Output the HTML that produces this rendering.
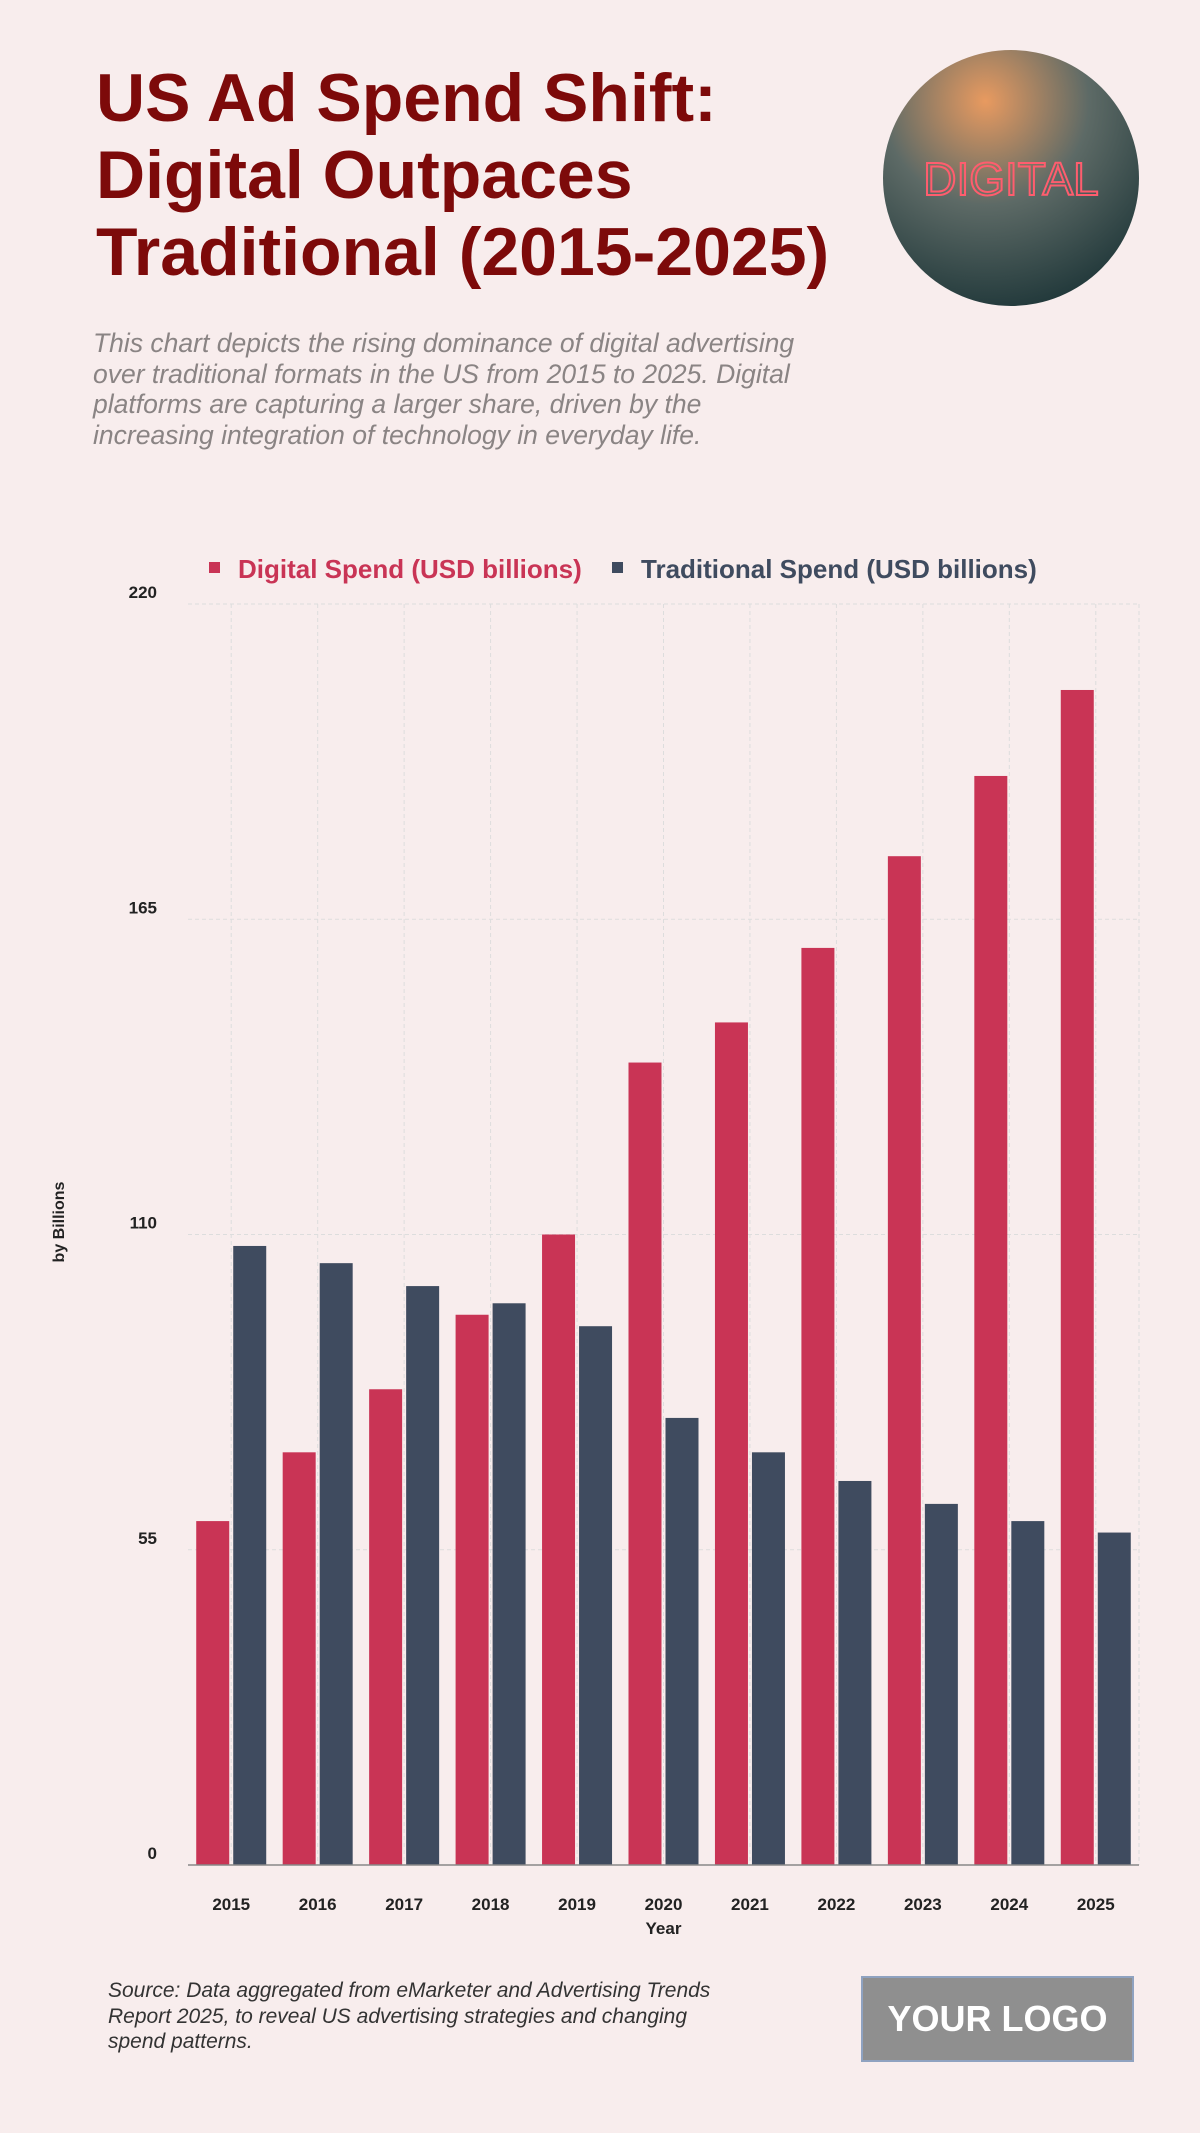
<!DOCTYPE html>
<html><head><meta charset="utf-8">
<style>
body{margin:0;width:1200px;height:2133px;background:#f8eded;font-family:"Liberation Sans",sans-serif;position:relative;overflow:hidden}
.t{position:absolute}
#title{left:96px;top:60px;font-size:68px;font-weight:bold;color:#7d0a0a;line-height:77px;margin:0}
#sub{left:93px;top:328px;font-size:26.5px;font-style:italic;color:#8a8484;line-height:30.5px;width:720px}
#src{left:108px;top:1978px;font-size:21px;font-style:italic;color:#333;line-height:25.5px;width:632px}
#logo{left:861px;top:1976px;width:273px;height:86px;background:#8f8f8f;border:2px solid #8fa2c0;color:#fff;font-weight:bold;font-size:36px;display:flex;align-items:center;justify-content:center;box-sizing:border-box}
</style></head><body>
<h1 id="title" class="t">US Ad Spend Shift:<br>Digital Outpaces<br>Traditional (2015-2025)</h1>
<svg class="t" style="left:883px;top:50px" width="256" height="256">
<defs><radialGradient id="g" cx="0.4" cy="0.2" r="0.9"><stop offset="0" stop-color="#e89a60"/><stop offset="0.45" stop-color="#5d6a66"/><stop offset="1" stop-color="#173033"/></radialGradient></defs>
<circle cx="128" cy="128" r="128" fill="url(#g)"/>
<text x="128" y="145" text-anchor="middle" font-size="46" fill="none" stroke="#ff5d6e" stroke-width="2" font-family="Liberation Sans">DIGITAL</text>
</svg>
<div id="sub" class="t">This chart depicts the rising dominance of digital advertising over traditional formats in the US from 2015 to 2025. Digital platforms are capturing a larger share, driven by the increasing integration of technology in everyday life.</div>
<svg id="chart" class="t" style="left:0;top:540px" width="1200" height="1420"></svg>
<div id="src" class="t">Source: Data aggregated from eMarketer and Advertising Trends Report 2025, to reveal US advertising strategies and changing spend patterns.</div>
<div id="logo" class="t">YOUR LOGO</div>
<script>
const years=["2015","2016","2017","2018","2019","2020","2021","2022","2023","2024","2025"];
const digital=[60,72,83,96,110,140,147,160,176,190,205];
const traditional=[108,105,101,98,94,78,72,67,63,60,58];
const ticks=[0,55,110,165,220];
const NS="http://www.w3.org/2000/svg";
const svg=document.getElementById('chart');
const OY=540,L=188,R=1139,T=604-OY,B=1865-OY,MAX=220;
const y=v=>B-(v/MAX)*(B-T);
const slot=(R-L)/years.length;
const xc=i=>L+slot*(i+0.5);
function mk(tag,a,parent){const e=document.createElementNS(NS,tag);for(const k in a)e.setAttribute(k,a[k]);(parent||svg).appendChild(e);return e;}
ticks.forEach(t=>{
 const g=mk('line',{x1:L,x2:R,y1:y(t),y2:y(t),stroke:'#ddd',"stroke-dasharray":'4 3'});
 
 
 const tx=mk('text',{x:157,y:y(t)-6,"text-anchor":'end',"font-size":17,"font-weight":'bold',fill:'#222'});tx.textContent=t;
 
 
});
mk('line',{x1:R,x2:R,y1:T,y2:B,stroke:'#ddd',"stroke-dasharray":'4 3'});
years.forEach((yr,i)=>{
 mk('line',{x1:xc(i),x2:xc(i),y1:T,y2:B,stroke:'#ddd',"stroke-dasharray":'4 3'});
 const bw=33,gap=4;
 const d=mk('rect',{x:xc(i)-gap/2-bw,y:y(digital[i]),width:bw,height:B-y(digital[i]),fill:'#c93455'});
 
 
 const t=mk('rect',{x:xc(i)+gap/2,y:y(traditional[i]),width:bw,height:B-y(traditional[i]),fill:'#3f4b5f'});
 
 
 const lb=mk('text',{x:xc(i),y:B+45,"text-anchor":'middle',"font-size":17,"font-weight":'bold',fill:'#222'});lb.textContent=yr;
 
 
});
const ax=mk('line',{x1:L,x2:R,y1:B,y2:B,stroke:'#888',"stroke-width":1.5});


const xt=mk('text',{x:(L+R)/2,y:B+69,"text-anchor":'middle',"font-size":17,"font-weight":'bold',fill:'#222'});xt.textContent='Year';


const yt=mk('text',{x:0,y:0,transform:'translate(64,682) rotate(-90)',"text-anchor":'middle',"font-size":16,"font-weight":'bold',fill:'#222'});yt.textContent='by Billions';


const l1=mk('g',{});


mk('rect',{x:209,y:22,width:11,height:11,fill:'#c93455'},l1);
const lt1=mk('text',{x:238,y:38,"font-size":26,"font-weight":'bold',fill:'#c93455'},l1);lt1.textContent='Digital Spend (USD billions)';
const l2=mk('g',{});


mk('rect',{x:612,y:22,width:11,height:11,fill:'#3f4b5f'},l2);
const lt2=mk('text',{x:641,y:38,"font-size":26,"font-weight":'bold',fill:'#3f4b5f'},l2);lt2.textContent='Traditional Spend (USD billions)';
</script>
</body></html>
